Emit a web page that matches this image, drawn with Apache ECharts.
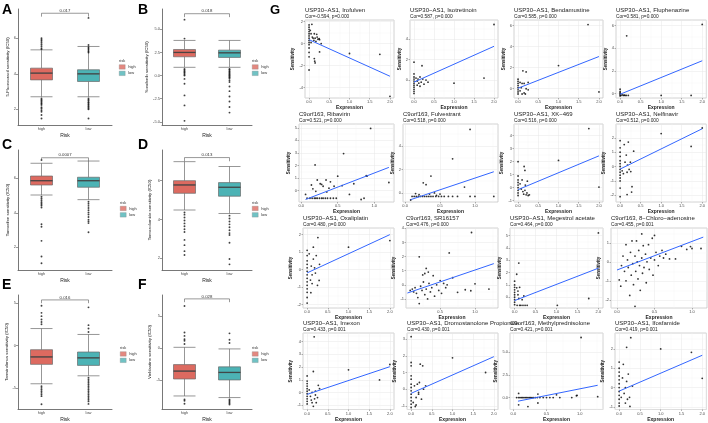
<!DOCTYPE html>
<html><head><meta charset="utf-8">
<script src="https://cdn.jsdelivr.net/npm/echarts@6/dist/echarts.min.js"></script>
<style>html,body{margin:0;padding:0;background:#fff}#c{width:708px;height:423px}</style>
</head><body><div id="c"></div>
<script>
// ---------------- DATA ----------------
const riskCategories = ['high', 'low'];
const boxLetters = ['A', 'B', 'C', 'D', 'E', 'F'];
const boxYNames = ['5-Fluorouracil sensitivity (IC50)', 'Sorafenib sensitivity (IC50)', 'Tamoxifen sensitivity (IC50)',
  'Temozolomide sensitivity (IC50)', 'Temsirolimus sensitivity (IC50)', 'Vinblastine sensitivity (IC50)'];
const boxPValues = ['0.017', '0.018', '0.0007', '0.013', '0.016', '0.028'];
// [min, Q1, median, Q3, max]
const boxA_high = [2.71, 3.66, 4.04, 4.32, 5.35];
const boxA_low = [2.71, 3.57, 4.0, 4.23, 5.54];
const boxB_high = [0.89, 2.03, 2.5, 2.82, 3.8];
const boxB_low = [0.89, 1.96, 2.46, 2.75, 3.8];
const boxC_high = [5.03, 5.61, 5.86, 6.13, 6.87];
const boxC_low = [4.76, 5.48, 5.86, 6.06, 7.0];
const boxD_high = [4.49, 5.35, 5.78, 6.0, 6.98];
const boxD_low = [4.31, 5.2, 5.66, 5.9, 6.73];
const boxE_high = [-4.52, -2.23, -1.35, -0.5, 2.0];
const boxE_low = [-3.58, -2.35, -1.46, -0.77, 1.3];
const boxF_high = [-7.55, -4.88, -3.64, -2.62, 0.1];
const boxF_low = [-7.8, -5.03, -3.85, -2.97, -0.15];
const outA_high = [6.0, 5.92, 5.85, 5.75, 5.65, 5.55, 5.45, 5.39, 2.62, 2.55, 2.5, 2.43, 2.36, 2.3, 2.24, 2.12, 2.05, 1.95, 1.87, 1.68, 1.49];
const outA_low = [7.15, 5.62, 5.5, 5.42, 5.35, 5.27, 5.2, 2.62, 2.55, 2.5, 2.42, 2.37, 2.3, 2.25, 2.18, 2.12, 2.05, 2.0, 1.49];
const outB_high = [6.05, 4.0, 0.72, 0.6, 0.46, 0.35, 0.25, 0.1, 0, -0.36, -0.89, -2.15, -3.23, -4.9];
const outB_low = [0.72, 0.62, 0.5, 0.4, 0.3, 0.2, 0.1, 0, -0.1, -0.2, -0.3, -0.5, -0.7, -1.18, -1.69, -2.26, -2.8, -3.41, -4.01];
const outC_high = [7.06, 4.93, 4.83, 4.73, 4.63, 4.55, 4.47, 4.4, 4.3, 3.33, 3.19, 2.37, 1.46, 1.07];
const outC_low = [4.64, 4.52, 4.4, 4.28, 4.15, 4.02, 3.9, 3.75, 3.6, 3.5, 3.4, 2.87];
const outD_high = [4.36, 4.25, 4.1, 3.95, 3.8, 3.65, 3.5, 3.36, 2.95, 2.68, 2.37, 2.17];
const outD_low = [4.2, 4.05, 3.9, 3.75, 3.6, 3.45, 3.3, 3.2, 2.8, 1.97, 1.69];
const outE_high = [4.69, 3.85, 3.46, 3.07, 2.77, 2.5, -4.8, -5.0, -5.2, -5.4, -5.6, -5.8, -5.98, -6.94];
const outE_low = [4.5, 2.4, 2.0, 1.6, -3.8, -4.0, -4.2, -4.4, -4.6, -4.8, -5.0, -5.2, -5.4, -5.6, -5.8, -6.0, -6.2, -6.4, -6.6, -6.9];
const outF_high = [6.6, 2.44, 1.9, 1.38, 1.13, 0.62, -8.1, -8.3, -8.77];
const outF_low = [2.3, 1.28, 0.77, -8.1, -8.3, -8.5, -8.7, -8.9];
const bracketTop = [7.41, 6.69, 7.19, 7.19, 5.38, 7.72];
const bracketTip = [7.22, 6.32, 7.0, 7.0, 4.99, 7.2];

const scatterTitles = ['USP30−AS1, Irofulven', 'USP30−AS1, Isotretinoin', 'USP30−AS1, Bendamustine', 'USP30−AS1, Fluphenazine',
  'C9orf163, Ribavirin', 'C9orf163, Fulvestrant', 'USP30−AS1, XK−469', 'USP30−AS1, Nelfinavir',
  'USP30−AS1, Oxaliplatin', 'C9orf163, SR16157', 'USP30−AS1, Megestrol acetate', 'C9orf163, 8−Chloro−adenosine',
  'USP30−AS1, Imexon', 'USP30−AS1, Dromostanolone Propionate', 'C9orf163, Methylprednisolone', 'USP30−AS1, Ifosfamide'];
const scatterCor = ['Cor=-0.594, p=0.000', 'Cor=0.587, p=0.000', 'Cor=0.585, p=0.000', 'Cor=0.581, p=0.000',
  'Cor=0.521, p=0.000', 'Cor=0.518, p=0.000', 'Cor=0.516, p=0.000', 'Cor=0.512, p=0.000',
  'Cor=0.480, p=0.000', 'Cor=0.476, p=0.000', 'Cor=0.464, p=0.000', 'Cor=0.455, p=0.001',
  'Cor=0.433, p=0.001', 'Cor=0.430, p=0.001', 'Cor=0.421, p=0.001', 'Cor=0.419, p=0.001'];

const pts1 = [[0,1.7],[0,1.5],[0,1.3],[0,1.1],[0,0.9],[0,0.7],[0,0.5],[0,0.3],[0,0.1],[0,-0.1],[0,-0.4],[0,-0.8],[0,-1.2],[0,-2.4],[0.03,1.2],[0.05,0.9],[0.07,1.76],[0.08,0.6],[0.1,0.5],[0.12,0.3],[0.13,0.9],[0.15,0.5],[0.17,0.2],[0.19,0.85],[0.2,0.6],[0.22,0.4],[0.25,0.45],[0.26,0.36],[0.3,0],[0.26,-0.76],[0.13,-1.36],[0.15,-1.76],[0.14,-1.6],[0.05,0.1],[1.0,-0.9],[1.75,-0.97],[2.0,-4.8]];
const pts2 = [[0,-1.3],[0,-1.1],[0,-0.9],[0,-0.7],[0,-0.5],[0,-0.3],[0,-0.1],[0,0.1],[0,0.3],[0,0.6],[0,1.75],[0.05,0.2],[0.08,-0.1],[0.1,0.1],[0.12,-0.3],[0.15,0.3],[0.18,-0.2],[0.2,1.4],[0.22,0.1],[0.25,-0.4],[0.3,0.0],[0.35,-0.2],[0.15,-0.6],[0.08,-0.5],[1.0,-0.3],[1.75,0.2],[2.0,5.43]];
const pts3 = [[0,-0.5],[0,-0.3],[0,-0.1],[0,0.1],[0,0.3],[0,0.5],[0,0.7],[0,0.9],[0.05,0.6],[0.05,-0.2],[0.08,0.1],[0.1,0.5],[0.12,1.7],[0.15,-0.4],[0.15,0.5],[0.2,1.6],[0.2,0.0],[0.25,0.6],[0.1,-0.5],[0.18,-0.5],[0.25,-0.1],[1.0,2.2],[1.73,6.1],[2.0,-0.3]];
const pts4 = [[0,-0.2],[0,-0.1],[0,0],[0,0.1],[0,0.2],[0,0.4],[0.02,-0.15],[0.05,-0.1],[0.08,-0.15],[0.1,-0.12],[0.12,-0.15],[0.16,5.1],[0.15,-0.15],[0.2,-0.15],[1.0,-0.15],[1.73,-0.15],[2.0,6.1]];
const pts5 = [[0.08,-0.6],[0.12,-0.6],[0.15,-0.6],[0.18,-0.6],[0.2,-0.6],[0.22,-0.6],[0.25,-0.6],[0.28,-0.6],[0.3,-0.6],[0.33,-0.6],[0.36,-0.6],[0.4,-0.6],[0.44,-0.6],[0.48,-0.6],[0.86,-0.6],[0.06,-0.3],[0.19,2.05],[0.95,4.95],[0.58,2.95],[0.14,0.45],[0.2,-0.05],[0.22,0.85],[0.26,0.55],[0.28,0.5],[0.3,0.35],[0.34,0.85],[0.38,0.2],[0.4,0.7],[0.5,1.15],[0.45,0.35],[0.56,0.4],[0.89,1.2],[0.9,1.15],[0.66,-0.3],[0.82,-0.7],[1.2,0.65],[0.72,0.55],[0.16,0.15],[0.35,-0.1]];
const pts6 = [[0.1,-0.3],[0.13,-0.3],[0.16,-0.3],[0.19,-0.3],[0.22,-0.3],[0.25,-0.3],[0.28,-0.3],[0.31,-0.3],[0.34,-0.3],[0.37,-0.3],[0.4,-0.3],[0.44,-0.3],[0.48,-0.3],[0.52,-0.3],[0.56,-0.3],[0.62,-0.3],[0.68,-0.3],[0.75,-0.3],[0.93,-0.3],[1.0,-0.3],[0.08,-0.6],[0.15,-0.05],[0.2,-0.15],[0.26,0.86],[0.3,0.7],[0.37,1.43],[0.42,0.0],[0.5,-0.1],[0.68,2.9],[0.85,0.5],[0.93,5.4],[0.35,-0.1],[0.45,-0.2],[1.27,-0.3]];
const pts7 = [[0,-0.6],[0,-0.4],[0,-0.2],[0,0],[0,0.2],[0,0.4],[0,0.6],[0,0.9],[0,2.0],[0.05,0.3],[0.08,-0.1],[0.1,0.6],[0.12,-0.3],[0.15,1.63],[0.17,1.33],[0.14,-0.5],[0.17,-0.2],[0.2,-0.55],[0.22,-0.4],[0.23,0.5],[0.25,-0.6],[0.28,-0.55],[0.18,0.2],[1.0,2.1],[1.75,4.55],[2.0,0.05]];
const pts8 = [[0,-2.1],[0,-1.5],[0,-1.0],[0,-0.8],[0,-0.6],[0,-0.4],[0,-0.2],[0,0],[0,0.2],[0,0.4],[0,0.7],[0,1.0],[0,1.3],[0,1.8],[0.05,-0.3],[0.08,-0.5],[0.1,1.53],[0.12,0.3],[0.15,0.8],[0.2,1.7],[0.17,-0.4],[0.22,-0.2],[0.25,0.3],[0.28,-1.78],[0.17,-1.95],[0.29,-1.4],[0.33,1.07],[0.18,0.1],[0.26,-0.35],[1.0,2.29],[1.73,1.4],[2.0,2.68]];
const pts9 = [[0,-1.92],[0,-1.6],[0,-1.3],[0,-1.1],[0,-0.9],[0,-0.7],[0,-0.5],[0,-0.3],[0,-0.1],[0,0.1],[0,0.3],[0,0.5],[0,0.8],[0,1.1],[0.05,0.9],[0.08,-0.6],[0.09,-1.32],[0.1,0.2],[0.12,-0.3],[0.15,1.28],[0.15,0.6],[0.18,0.1],[0.2,-0.2],[0.22,0.8],[0.26,1.83],[0.25,-0.9],[0.29,-0.62],[0.3,0.3],[0.12,-0.8],[1.0,1.28],[2.0,1.66]];
const pts10 = [[0.95,3.7],[0.63,2.26],[0.2,1.98],[0.3,1.16],[0.4,0.65],[0.28,0.8],[0.25,0.7],[0.33,0.9],[0.1,-0.3],[0.12,-0.5],[0.14,-0.2],[0.16,-0.6],[0.18,-0.9],[0.2,-1.33],[0.22,-0.1],[0.24,-0.4],[0.26,0.2],[0.28,-0.7],[0.3,-0.3],[0.32,-1.0],[0.34,0.1],[0.36,-0.5],[0.38,-0.2],[0.42,-0.8],[0.45,0.0],[0.48,-0.4],[0.5,0.3],[0.52,-0.6],[0.55,0.1],[0.58,-0.2],[0.6,0.0],[0.07,-0.4],[0.86,-0.35],[0.94,-0.42],[1.0,0.07],[0.75,-0.53],[1.2,-0.3],[0.68,0.5]];
const pts11 = [[0,-0.6],[0,-0.4],[0,-0.2],[0,0],[0,0.2],[0,0.4],[0,0.6],[0,0.8],[0,1.0],[0,1.3],[0.05,1.86],[0.05,0.76],[0.08,0.5],[0.1,2.76],[0.08,0.2],[0.12,0.8],[0.1,-0.1],[0.12,-0.65],[0.15,-0.65],[0.2,-0.65],[0.25,-0.65],[0.3,-0.65],[0.06,-0.65],[0.18,-0.2],[0.22,0.1],[1.02,-0.65],[1.77,-0.1],[2.0,5.2]];
const pts12 = [[0.03,-0.95],[0.05,-1.28],[0.06,-0.2],[0.08,0.3],[0.1,-0.5],[0.12,0.9],[0.12,-1.0],[0.14,0.1],[0.15,-0.3],[0.17,-1.77],[0.18,0.5],[0.19,-0.7],[0.2,1.1],[0.21,-0.1],[0.22,-1.2],[0.24,-2.34],[0.24,0.3],[0.25,-0.5],[0.26,1.1],[0.27,0.0],[0.28,-0.9],[0.29,0.6],[0.3,-0.2],[0.31,-1.5],[0.33,1.47],[0.33,0.2],[0.34,-0.6],[0.35,0.85],[0.36,-0.3],[0.38,0.4],[0.39,-1.1],[0.4,0.0],[0.42,0.9],[0.43,-0.4],[0.45,0.2],[0.47,1.24],[0.48,-0.7],[0.5,1.39],[0.5,0.1],[0.52,0.5],[0.55,-0.2],[0.57,0.3],[0.6,0.6],[0.62,0.2],[0.65,0.4],[0.7,0.15],[0.78,0.15],[0.86,0.82],[0.93,0.65],[0.98,0.8],[1.0,0.7],[1.12,0.7]];
const pts13 = [[0,-0.9],[0,-0.7],[0,-0.5],[0,-0.3],[0,-0.1],[0,0.1],[0,0.3],[0,0.5],[0,0.7],[0,0.9],[0,1.3],[0.05,0.2],[0.08,-0.3],[0.1,-0.6],[0.12,0.0],[0.15,-1.09],[0.15,1.65],[0.12,-0.8],[0.17,4.38],[0.18,-0.5],[0.2,-0.2],[0.22,-0.8],[0.25,-0.4],[0.27,0.56],[0.3,0.3],[0.2,0.1],[1.0,1.78],[1.75,0.99],[2.0,2.2]];
const pts14 = [[0,-1.1],[0,-0.9],[0,-0.7],[0,-0.5],[0,-0.3],[0,-0.1],[0,0.1],[0,0.3],[0,0.6],[0,0.8],[0,1.4],[0,1.6],[0,3.15],[0.05,-0.8],[0.08,0.2],[0.1,-1.04],[0.12,-0.5],[0.15,0.3],[0.18,-0.3],[0.2,0.4],[0.22,1.5],[0.25,-0.6],[0.28,1.4],[0.3,0.0],[0.35,0.2],[0.12,-0.95],[0.18,-0.2],[1.0,1.88],[1.8,1.0]];
const pts15 = [[0.05,0],[0.08,0],[0.1,0],[0.12,0],[0.14,0],[0.16,0],[0.18,0],[0.2,0],[0.22,0],[0.24,0],[0.26,0],[0.28,0],[0.3,0],[0.33,0],[0.36,0],[0.4,0],[0.45,0],[0.5,0],[0.55,0],[0.6,0],[0.7,0],[0.08,0.46],[0.37,0.39],[0.22,-1.0],[0.37,-0.6],[0.08,-0.8],[0.65,0.3],[0.95,0.2],[0.96,0.25],[0.88,0.0],[1.02,6.64],[1.27,0.1]];
const pts16 = [[0,-0.95],[0,-0.8],[0,-0.6],[0,-0.4],[0,-0.2],[0,0],[0,0.2],[0,0.4],[0,0.6],[0,0.8],[0,1.0],[0,1.32],[0.05,-0.5],[0.08,0.5],[0.1,1.2],[0.12,-0.3],[0.15,0.0],[0.18,2.08],[0.18,0.32],[0.2,-0.6],[0.22,0.7],[0.26,-0.97],[0.28,2.58],[0.32,0.08],[0.25,-0.5],[0.15,-0.8],[1.0,2.0],[1.74,1.82],[2.0,0.48]];
const fit1 = [[0, 0.36], [2.0, -2.97]];
const fit2 = [[0, -0.2], [2.0, 3.3]];
const fit3 = [[0, 0.05], [2.0, 3.06]];
const fit4 = [[0, -0.05], [2.0, 2.9]];
const fit5 = [[0.06, -0.7], [1.2, 1.85]];
const fit6 = [[0.08, -0.57], [1.27, 1.8]];
const fit7 = [[0, -0.15], [2.0, 2.45]];
const fit8 = [[0, -0.18], [2.0, 2.63]];
const fit9 = [[0, -0.19], [2.0, 2.0]];
const fit10 = [[0.03, -0.58], [1.27, 1.5]];
const fit11 = [[0, -0.27], [2.0, 2.35]];
const fit12 = [[0, -0.43], [1.15, 1.3]];
const fit13 = [[0, -0.15], [2.0, 2.03]];
const fit14 = [[0, -0.25], [2.0, 1.95]];
const fit15 = [[0.07, -0.4], [1.27, 1.36]];
const fit16 = [[0, -0.18], [2.0, 1.67]];

// ---------------- LAYOUT / SCALES ----------------
const FONT = '"Liberation Sans", Arial, sans-serif';
const HIGH = '#DD6A60', LOW = '#4CB3B5';
const boxHigh = [boxA_high, boxB_high, boxC_high, boxD_high, boxE_high, boxF_high];
const boxLow = [boxA_low, boxB_low, boxC_low, boxD_low, boxE_low, boxF_low];
const outHigh = [outA_high, outB_high, outC_high, outD_high, outE_high, outF_high];
const outLow = [outA_low, outB_low, outC_low, outD_low, outE_low, outF_low];
const boxGrids = [[18, 9, 94, 116], [162, 9, 90, 116], [18, 150, 94, 120], [162, 150, 90, 120], [18, 295, 94, 117], [162, 295, 90, 117]];
const boxYRange = [[1.12, 7.65, 2, 0], [-5.35, 7.2, 2.5, 1], [0.68, 7.64, 2, 0], [1.4, 7.58, 2, 0], [-7.5, 5.96, 5, 0], [-9.6, 8.33, 5, 0]];
const boxNameGap = [8, 10, 8, 10, 9, 10];
const letterPos = [[2, 10], [138, 10], [2, 145], [138, 145], [2, 285], [138, 285]];
const legendPos = [[119, 64.5], [252, 64.5], [120, 206], [252, 206], [120, 351.5], [252, 351.5]];

const pts = [pts1, pts2, pts3, pts4, pts5, pts6, pts7, pts8, pts9, pts10, pts11, pts12, pts13, pts14, pts15, pts16];
const fits = [fit1, fit2, fit3, fit4, fit5, fit6, fit7, fit8, fit9, fit10, fit11, fit12, fit13, fit14, fit15, fit16];
const colRight = [394, 498, 603, 707];
const rowTop = [20, 124, 228, 333];
const rowH = [78, 78, 80, 79];
const panelLeft = [305, 410, 514, 616, 299, 403, 514, 616, 303, 406, 510, 611, 303, 407, 510, 615];
// [xmin, xmax, xstep, ymin, ymax, ystep, ydecimals]
const scaleSpec = [
  [-0.1, 2.1, 0.5, -4.95, 2.15, 2, 0], [-0.1, 2.1, 0.5, -1.75, 5.87, 2, 0], [-0.1, 2.1, 0.5, -0.88, 6.53, 2, 0], [-0.1, 2.1, 0.5, -0.38, 6.49, 2, 0],
  [-0.03, 1.27, 0.5, -0.9, 5.3, 1, 0], [-0.03, 1.33, 0.5, -0.77, 5.86, 2, 0], [-0.1, 2.1, 0.5, -1.1, 4.9, 1, 0], [-0.1, 2.1, 0.5, -2.47, 2.96, 1, 0],
  [-0.1, 2.1, 0.5, -2.2, 2.38, 1, 0], [0.01, 1.33, 0.5, -1.64, 4.02, 1, 0], [-0.11, 2.11, 0.5, -0.87, 5.6, 1, 0], [-0.08, 1.2, 0.5, -2.43, 1.78, 1, 0],
  [-0.1, 2.1, 0.5, -1.34, 4.68, 1, 0], [-0.1, 2.1, 0.5, -1.22, 3.37, 1, 0], [-0.05, 1.35, 0.5, -1.32, 7.14, 2.5, 1], [-0.1, 2.1, 0.5, -1.13, 2.82, 1, 0]];

const grid = [], xAxis = [], yAxis = [], series = [], legend = [], graphic = [];
const tickFont = { fontSize: 4, color: '#4d4d4d', fontFamily: FONT };

// ---- Box panels ----
for (let i = 0; i < 6; i++) {
  const g = boxGrids[i], r = boxYRange[i];
  grid.push({ left: g[0], top: g[1], width: g[2], height: g[3] });
  xAxis.push({ type: 'category', gridIndex: i, data: riskCategories, boundaryGap: true,
    axisLine: { onZero: false, lineStyle: { color: '#555', width: 0.8 } }, axisTick: { length: 2, alignWithLabel: true, lineStyle: { color: '#555', width: 0.6 } },
    axisLabel: Object.assign({ margin: 2 }, tickFont),
    name: 'Risk', nameLocation: 'middle', nameGap: 8, nameTextStyle: { fontSize: 5, color: '#222', fontFamily: FONT } });
  yAxis.push({ type: 'value', gridIndex: i, min: r[0], max: r[1], minInterval: r[2], maxInterval: r[2],
    axisLine: { show: true, onZero: false, lineStyle: { color: '#555', width: 0.8 } }, axisTick: { show: true, length: 2, lineStyle: { color: '#555', width: 0.6 } },
    splitLine: { show: false },
    axisLabel: Object.assign({ margin: 2, showMinLabel: false, showMaxLabel: false, formatter: v => v.toFixed(r[3]) }, tickFont),
    name: boxYNames[i], nameLocation: 'middle', nameRotate: 90, nameGap: boxNameGap[i],
    nameTextStyle: { fontSize: 4.3, color: '#222', fontFamily: FONT } });
  series.push({ type: 'boxplot', xAxisIndex: i, yAxisIndex: i, boxWidth: [22, 22], silent: true,
    itemStyle: { borderColor: '#6a6a6a', borderWidth: 0.7 },
    data: [{ value: boxHigh[i], itemStyle: { color: HIGH } }, { value: boxLow[i], itemStyle: { color: LOW } }] });
  series.push({ type: 'scatter', xAxisIndex: i, yAxisIndex: i, silent: true, symbol: 'rect', symbolSize: [22, 1.3],
    itemStyle: { color: '#3a3a3a' }, z: 3, data: [['high', boxHigh[i][2]], ['low', boxLow[i][2]]] });
  series.push({ name: 'high', type: 'scatter', xAxisIndex: i, yAxisIndex: i, silent: true, symbolSize: 1.9,
    itemStyle: { color: '#111' }, data: outHigh[i].map(v => ['high', v]) });
  series.push({ name: 'low', type: 'scatter', xAxisIndex: i, yAxisIndex: i, silent: true, symbolSize: 1.9,
    itemStyle: { color: '#111' }, data: outLow[i].map(v => ['low', v]) });
  series.push({ type: 'line', xAxisIndex: i, yAxisIndex: i, silent: true, symbol: 'none',
    lineStyle: { color: '#555', width: 0.6 },
    data: [['high', bracketTip[i]], ['high', bracketTop[i]], ['low', bracketTop[i]], ['low', bracketTip[i]]] });
  const lp = legendPos[i];
  legend.push({ left: lp[0], top: lp[1], orient: 'vertical', padding: 0, itemGap: 1.5, itemWidth: 6, itemHeight: 4.5,
    selectedMode: false, textStyle: { fontSize: 4, color: '#333', fontFamily: FONT, padding: [0, 0, 0, -2] },
    data: [{ name: 'high', icon: 'rect', itemStyle: { color: HIGH, borderColor: '#888', borderWidth: 0.4 } },
           { name: 'low', icon: 'rect', itemStyle: { color: LOW, borderColor: '#888', borderWidth: 0.4 } }] });
  graphic.push({ type: 'text', style: { text: 'risk', x: lp[0], y: lp[1] - 3.5, fill: '#333', font: '4px ' + FONT, textVerticalAlign: 'middle' } });
  graphic.push({ type: 'text', style: { text: boxLetters[i], x: letterPos[i][0], y: letterPos[i][1], fill: '#000', font: 'bold 14px ' + FONT, textVerticalAlign: 'middle' } });
}

// ---- Scatter panels ----
for (let k = 0; k < 16; k++) {
  const gi = 6 + k, col = k % 4, row = Math.floor(k / 4);
  const s = scaleSpec[k];
  const left = panelLeft[k], top = rowTop[row];
  grid.push({ left: left, top: top, width: colRight[col] - left, height: rowH[row], show: true,
    backgroundColor: '#fff', borderColor: '#b5b5b5', borderWidth: 0.6 });
  const common = {
    axisTick: { show: true, length: 1.5, lineStyle: { color: '#666', width: 0.5 } },
    splitLine: { show: true, lineStyle: { color: '#e6e6e6', width: 0.5 } },
    minorTick: { show: false, splitNumber: 2 }, minorSplitLine: { show: true, lineStyle: { color: '#f3f3f3', width: 0.4 } }
  };
  xAxis.push(Object.assign({ type: 'value', gridIndex: gi, min: s[0], max: s[1], minInterval: s[2], maxInterval: s[2],
    axisLine: { show: false, onZero: false },
    axisLabel: Object.assign({ margin: 2, showMinLabel: false, showMaxLabel: false, formatter: v => v.toFixed(1) }, tickFont),
    name: 'Expression', nameLocation: 'middle', nameGap: 7.5,
    nameTextStyle: { fontSize: 5, fontWeight: 'bold', color: '#222', fontFamily: FONT } }, common));
  yAxis.push(Object.assign({ type: 'value', gridIndex: gi, min: s[3], max: s[4], minInterval: s[5], maxInterval: s[5],
    axisLine: { show: false, onZero: false },
    axisLabel: Object.assign({ margin: 2, showMinLabel: false, showMaxLabel: false, formatter: v => v.toFixed(s[6]) }, tickFont),
    name: 'Sensitivity', nameLocation: 'middle', nameRotate: 90, nameGap: 8,
    nameTextStyle: { fontSize: 4.5, fontWeight: 'bold', color: '#222', fontFamily: FONT } }, common));
  series.push({ type: 'scatter', xAxisIndex: gi, yAxisIndex: gi, silent: true, symbolSize: 1.8,
    itemStyle: { color: '#000' }, data: pts[k] });
  series.push({ type: 'line', xAxisIndex: gi, yAxisIndex: gi, silent: true, symbol: 'none', z: 4,
    lineStyle: { color: '#3366FF', width: 1 }, data: fits[k] });
  graphic.push({ type: 'text', style: { text: scatterTitles[k], x: left, y: top - 9.5, fill: '#222', font: '6px ' + FONT, textVerticalAlign: 'middle' } });
  graphic.push({ type: 'text', style: { text: scatterCor[k], x: left, y: top - 3.8, fill: '#222', font: '4.8px ' + FONT, textVerticalAlign: 'middle' } });
}
graphic.push({ type: 'text', style: { text: 'G', x: 270, y: 10, fill: '#000', font: 'bold 13px ' + FONT, textVerticalAlign: 'middle' } });

const chart = echarts.init(document.getElementById('c'), null, { renderer: 'canvas' });
chart.setOption({ animation: false, backgroundColor: '#fff', textStyle: { fontFamily: FONT },
  grid, xAxis, yAxis, series, legend, graphic });

// p-value labels placed above each bracket via the axes' own scales
const pGraphics = graphic.slice();
for (let i = 0; i < 6; i++) {
  const a = chart.convertToPixel({ gridIndex: i }, ['high', bracketTop[i]]);
  const b = chart.convertToPixel({ gridIndex: i }, ['low', bracketTop[i]]);
  pGraphics.push({ type: 'text', style: { text: boxPValues[i], x: (a[0] + b[0]) / 2, y: a[1] - 2.5, fill: '#333',
    font: '4.3px ' + FONT, textAlign: 'center', textVerticalAlign: 'middle' } });
}
chart.setOption({ graphic: pGraphics });
</script></body></html>
